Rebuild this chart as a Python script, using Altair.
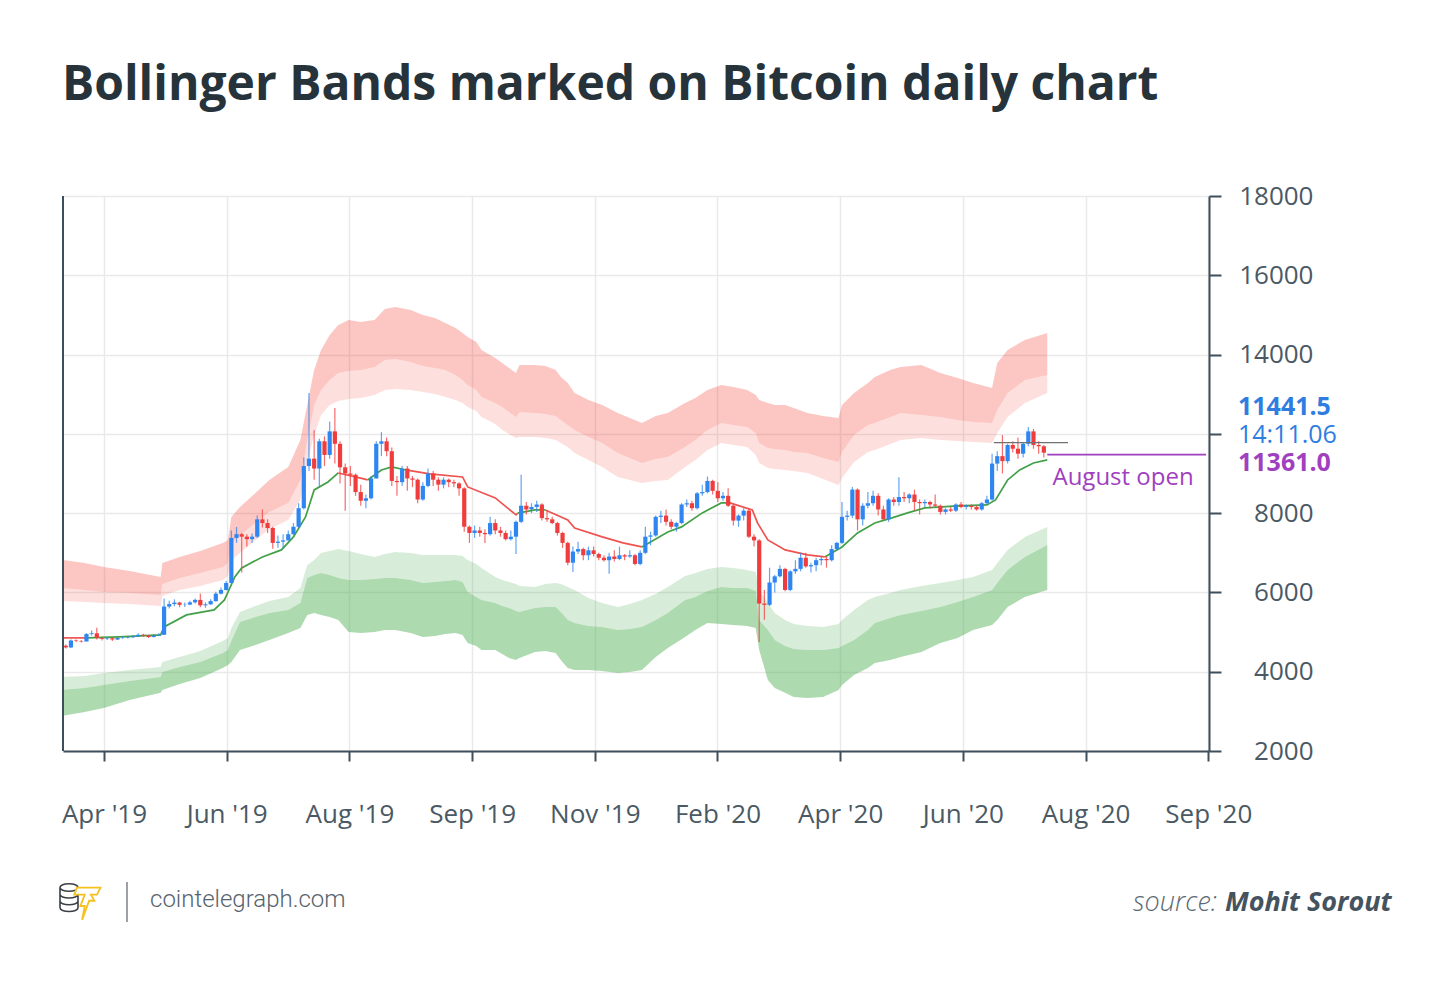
import json

import altair as alt
import pandas as pd

# ---------------------------------------------------------------- data
# 3-day candles, the first one centred on 2019-02-05
candle_start = "2019-02-05"
first_open = 3650
closes = [
    3580, 3860, 3840, 3820, 4120, 4150, 3960, 3930, 3950, 3900,
    3960, 3970, 3990, 4030, 4090, 4060, 4000, 4060, 4090, 5230,
    5330, 5390, 5300, 5310, 5400, 5500, 5280, 5320, 5450, 5750,
    5900, 6180, 8000, 8150, 8050, 7950, 8050, 8750, 8600, 8400,
    7800, 7850, 7900, 8150, 8450, 9200, 10900, 11200, 10800, 11900,
    11350, 12300, 11800, 10850, 10600, 10550, 9850, 9500, 9600, 10400,
    11800, 11900, 11500, 10300, 10250, 10800, 10400, 10350, 9550, 10100,
    10600, 10350, 10150, 10350, 10250, 10200, 10000, 8450, 8200, 8300,
    8200, 8150, 8600, 8300, 8200, 7950, 8050, 8650, 9300, 9150,
    9250, 9350, 8800, 8750, 8600, 8200, 7800, 7000, 7450, 7550,
    7300, 7500, 7350, 7200, 7100, 7250, 7150, 7300, 7250, 7300,
    6950, 7400, 8050, 8100, 8850, 8900, 8650, 8450, 8600, 9350,
    9400, 9200, 9800, 9850, 10300, 9900, 9600, 9700, 9300, 8700,
    8900, 9100, 8050, 7900, 5350, 5300, 6200, 6450, 6750, 5900,
    6650, 6750, 7200, 6850, 6900, 7100, 7150, 7100, 7550, 7800,
    8850, 8900, 9950, 8750, 9300, 9400, 9700, 9150, 8750, 9550,
    9450, 9650, 9600, 9750, 9450, 9400, 9450, 9350, 9300, 9050,
    9150, 9100, 9350, 9250, 9300, 9250, 9150, 9400, 9550, 11000,
    11300, 11100, 11750, 11600, 11400, 11800, 12300, 11750, 11700, 11440,
]
highs = [
    3700, 3900, 3900, 3880, 4160, 4260, 4370, 4010, 4010, 3980,
    4010, 4030, 4040, 4080, 4150, 4130, 4080, 4110, 4160, 5560,
    5460, 5520, 5420, 5390, 5460, 5560, 5760, 5400, 5520, 5830,
    6000, 6260, 8300, 8440, 8200, 8150, 8180, 8900, 9150, 8750,
    8450, 8100, 8150, 8300, 8600, 9400, 11250, 13850, 12350, 12000,
    12100, 12700, 13240, 11900, 11000, 10900, 10600, 10150, 9750, 10500,
    11900, 12270, 12050, 11650, 10500, 10900, 10900, 10500, 10400, 10250,
    10800, 10700, 10450, 10450, 10400, 10350, 10250, 10050, 8500, 8500,
    8450, 8350, 8850, 8750, 8450, 8300, 8300, 8700, 10550, 9450,
    9400, 9500, 9400, 9100, 8850, 8650, 8250, 7850, 7650, 7850,
    7600, 7650, 7650, 7400, 7300, 7400, 7500, 7650, 7350, 7500,
    7350, 7500, 8450, 8250, 8900, 9100, 9150, 8750, 8650, 9400,
    9550, 9500, 9850, 10150, 10480, 10350, 10250, 9850, 10000, 9350,
    8950, 9200, 9180, 8150, 7950, 5900, 6800, 6500, 6900, 6800,
    6700, 7100, 7400, 7400, 7000, 7200, 7250, 7250, 7700, 7850,
    9450, 9100, 10060, 10000, 9400, 9850, 9900, 9800, 9300, 9600,
    9650, 10450, 9850, 9800, 9950, 9550, 9550, 9500, 9750, 9350,
    9200, 9250, 9400, 9450, 9350, 9350, 9300, 9450, 9700, 11400,
    11500, 12150, 11800, 11900, 12050, 11850, 12480, 12400, 11900, 11750,
]
lows = [
    3540, 3560, 3790, 3780, 3820, 4060, 3900, 3860, 3880, 3840,
    3880, 3920, 3940, 3960, 4010, 4010, 3960, 3980, 4040, 4080,
    5150, 5240, 5200, 5210, 5280, 5350, 5200, 5180, 5300, 5420,
    5720, 5880, 6160, 7800, 6600, 7650, 7800, 8000, 8420, 8200,
    7560, 7600, 7550, 7900, 8100, 8400, 9150, 10700, 10350, 10050,
    10900, 11200, 11000, 10200, 9100, 10100, 9700, 9300, 9200, 9550,
    10400, 11300, 11300, 10100, 9700, 10100, 9900, 10050, 9400, 9500,
    10050, 10100, 9900, 10000, 10050, 10050, 9700, 8250, 7800, 8000,
    8050, 7800, 8100, 8150, 8050, 7900, 7900, 7350, 8600, 8950,
    9000, 9050, 8700, 8650, 8550, 8100, 7600, 6900, 6620, 7350,
    7100, 7100, 7250, 7100, 7050, 6550, 7050, 7100, 7100, 7200,
    6900, 6900, 7350, 7700, 8050, 8600, 8500, 8350, 8250, 8550,
    9250, 9100, 9150, 9700, 9800, 9750, 9450, 9500, 9250, 8500,
    8450, 8700, 8000, 7650, 3800, 4700, 5250, 5800, 6400, 5850,
    5850, 6550, 6650, 6800, 6600, 6650, 6900, 6800, 7050, 7500,
    7750, 8700, 8800, 8300, 8500, 9200, 9300, 8900, 8700, 8650,
    9300, 9300, 9450, 9400, 9100, 8950, 9250, 9200, 9250, 8950,
    8950, 9050, 9050, 9200, 9150, 9150, 9100, 9100, 9350, 9500,
    10700, 10600, 11000, 11450, 11200, 11250, 11700, 11600, 11400, 11250,
]

# Bollinger bands: outer / split / inner edge of the upper and lower zones
band_dates = [
    "2019-02-03", "2019-02-16", "2019-02-27", "2019-03-14", "2019-04-01",
    "2019-04-02", "2019-04-12", "2019-04-24", "2019-05-07", "2019-05-10",
    "2019-05-12", "2019-05-17", "2019-05-26", "2019-06-03", "2019-06-14",
    "2019-06-21", "2019-06-25", "2019-06-29", "2019-07-03", "2019-07-08",
    "2019-07-13", "2019-07-19", "2019-07-26", "2019-08-03", "2019-08-09",
    "2019-08-15", "2019-08-24", "2019-08-31", "2019-09-07", "2019-09-13",
    "2019-09-19", "2019-09-23", "2019-09-26", "2019-10-01", "2019-10-04",
    "2019-10-12", "2019-10-16", "2019-10-20", "2019-10-24", "2019-10-26",
    "2019-11-04", "2019-11-10", "2019-11-16", "2019-11-19", "2019-11-23",
    "2019-11-27", "2019-12-05", "2019-12-13", "2019-12-22", "2019-12-29",
    "2020-01-05", "2020-01-13", "2020-01-20", "2020-01-30", "2020-02-05",
    "2020-02-12", "2020-02-20", "2020-02-27", "2020-03-06", "2020-03-11",
    "2020-03-13", "2020-03-18", "2020-03-22", "2020-03-28", "2020-04-02",
    "2020-04-10", "2020-04-19", "2020-04-28", "2020-04-30", "2020-05-07",
    "2020-05-15", "2020-05-19", "2020-05-28", "2020-06-03", "2020-06-15",
    "2020-06-26", "2020-07-06", "2020-07-15", "2020-07-26", "2020-07-29",
    "2020-08-04", "2020-08-14", "2020-08-27",
]
upper_outer = [
    7112, 6991, 6830, 6668, 6426, 6991, 7233, 7475, 7798, 7919,
    8847, 9251, 9816, 10340, 10864, 11954, 13366, 14778, 15585, 16191,
    16594, 16796, 16716, 16796, 17240, 17321, 17200, 16998, 16877, 16675,
    16474, 16271, 16110, 15909, 15585, 15263, 15061, 14859, 14657, 14980,
    14980, 14940, 14778, 14496, 14254, 13851, 13568, 13366, 13044, 12842,
    12640, 12923, 13044, 13447, 13649, 13972, 14173, 14092, 13972, 13770,
    13568, 13447, 13366, 13366, 13245, 13044, 12923, 12842, 13366, 13851,
    14254, 14496, 14778, 14900, 14980, 14657, 14456, 14254, 14052, 15061,
    15585, 15989, 16271,
]
upper_mid = [
    5982, 5902, 5821, 5781, 5700, 6144, 6386, 6588, 6830, 6991,
    7798, 8121, 8605, 9049, 9412, 10340, 11954, 13366, 13972, 14375,
    14657, 14738, 14778, 14900, 15182, 15222, 15101, 14940, 14859, 14778,
    14577, 14375, 14173, 13972, 13689, 13447, 13286, 13084, 12882, 13084,
    13044, 13003, 12923, 12761, 12559, 12358, 12075, 11833, 11430, 11228,
    11026, 11187, 11268, 11672, 11954, 12358, 12640, 12559, 12479, 12237,
    11833, 11632, 11591, 11551, 11470, 11430, 11228, 11066, 11470, 12156,
    12559, 12640, 12882, 13044, 12963, 12882, 12761, 12680, 12640, 13165,
    13851, 14375, 14577,
]
upper_inner = [
    5458, 5417, 5377, 5337, 5256, 5660, 5902, 6063, 6305, 6466,
    7112, 7394, 7919, 8363, 8726, 9533, 11066, 12156, 12963, 13366,
    13528, 13609, 13649, 13770, 13972, 14012, 13972, 13891, 13810, 13689,
    13568, 13447, 13286, 13124, 12882, 12600, 12358, 12197, 12035, 12075,
    12075, 12035, 11954, 11833, 11672, 11430, 11147, 10864, 10461, 10340,
    10219, 10300, 10340, 10864, 11147, 11551, 11833, 11752, 11672, 11349,
    11026, 10824, 10784, 10743, 10703, 10622, 10380, 10138, 10421, 11066,
    11470, 11551, 11793, 11954, 12035, 11954, 11914, 11874, 11833, 12237,
    12882, 13447, 13851,
]
lower_inner = [
    2391, 2432, 2553, 2674, 2795, 2996, 3198, 3440, 3844, 3965,
    4368, 5014, 5256, 5458, 5619, 5982, 6910, 7112, 7394, 7475,
    7556, 7475, 7354, 7233, 7354, 7435, 7394, 7314, 7314, 7314,
    7314, 7273, 7112, 6951, 6789, 6426, 6305, 6224, 6144, 6063,
    6023, 6144, 6184, 6144, 6023, 5902, 5579, 5377, 5216, 5337,
    5498, 5740, 6023, 6466, 6588, 6749, 6830, 6789, 6709, 6628,
    5902, 5377, 4974, 4691, 4530, 4449, 4409, 4530, 4691, 5095,
    5498, 5619, 5781, 5902, 6063, 6184, 6305, 6426, 6709, 6991,
    7516, 8040, 8444,
]
lower_mid = [
    1867, 1947, 2068, 2230, 2391, 2593, 2795, 2996, 3360, 3481,
    3844, 4610, 4812, 4974, 5095, 5377, 6386, 6507, 6588, 6507,
    6386, 6305, 6305, 6345, 6386, 6386, 6305, 6184, 6224, 6265,
    6305, 6224, 5821, 5619, 5498, 5377, 5256, 5175, 5055, 5014,
    5175, 5216, 5216, 5014, 4691, 4570, 4449, 4409, 4288, 4328,
    4409, 4691, 4974, 5498, 5619, 5861, 6023, 5982, 5982, 5861,
    4691, 4288, 3884, 3642, 3521, 3481, 3481, 3561, 3642, 3884,
    4288, 4570, 4772, 4893, 5055, 5216, 5417, 5619, 5902, 6184,
    6709, 7233, 7717,
]
lower_outer = [
    817, 979, 1140, 1463, 1746, 1867, 2109, 2351, 2754, 2875,
    2996, 3481, 3682, 3884, 4167, 4368, 4893, 4974, 4893, 4812,
    4691, 4207, 4167, 4207, 4288, 4288, 4167, 4005, 4046, 4126,
    4167, 4086, 3763, 3642, 3481, 3481, 3319, 3158, 3077, 3158,
    3400, 3440, 3360, 3077, 2754, 2674, 2674, 2633, 2553, 2593,
    2674, 3198, 3561, 4005, 4288, 4570, 4530, 4489, 4449, 4368,
    3481, 2270, 1947, 1746, 1584, 1543, 1584, 1867, 2068, 2472,
    2754, 2956, 3077, 3198, 3400, 3763, 3965, 4288, 4489, 4691,
    5216, 5619, 5902,
]

# trailing middle line, green while rising, red while falling
trend_dates = [
    "2019-02-03", "2019-02-17", "2019-02-17", "2019-03-08", "2019-04-01",
    "2019-04-03", "2019-04-16", "2019-05-02", "2019-05-08", "2019-05-14",
    "2019-05-18", "2019-05-30", "2019-06-10", "2019-06-17", "2019-06-24",
    "2019-06-29", "2019-07-07", "2019-07-13", "2019-07-13", "2019-07-23",
    "2019-07-30", "2019-07-30", "2019-08-07", "2019-08-13", "2019-08-21",
    "2019-08-21", "2019-09-04", "2019-09-23", "2019-09-26", "2019-10-12",
    "2019-10-24", "2019-10-25", "2019-10-25", "2019-11-04", "2019-11-10",
    "2019-11-10", "2019-11-23", "2019-11-27", "2019-12-13", "2019-12-25",
    "2020-01-05", "2020-01-05", "2020-01-20", "2020-01-28", "2020-02-09",
    "2020-02-20", "2020-02-25", "2020-02-25", "2020-03-09", "2020-03-12",
    "2020-03-18", "2020-03-28", "2020-04-10", "2020-04-20", "2020-04-20",
    "2020-04-30", "2020-05-09", "2020-05-19", "2020-05-29", "2020-06-07",
    "2020-06-17", "2020-06-27", "2020-07-06", "2020-07-23", "2020-07-28",
    "2020-08-04", "2020-08-11", "2020-08-19", "2020-08-27",
]
trend_vals = [
    3965, 3965, 3965, 4005, 4086, 4409, 4893, 5095, 5498, 6426,
    6789, 7233, 7516, 8040, 8847, 9937, 10259, 10622, 10622, 10461,
    10340, 10340, 10743, 10864, 10743, 10743, 10582, 10461, 10058, 9614,
    8928, 9000, 9000, 9130, 9130, 9130, 8726, 8403, 8040, 7798,
    7636, 7636, 8242, 8444, 9009, 9412, 9412, 9412, 9130, 8605,
    7919, 7516, 7314, 7233, 7233, 7636, 8202, 8605, 8807, 9009,
    9210, 9251, 9291, 9331, 9533, 10340, 10743, 11026, 11147,
]
trend_dir = [
    "dn", "dn", "up", "up", "up", "up", "up", "up", "up", "up",
    "up", "up", "up", "up", "up", "up", "up", "up", "dn", "dn",
    "dn", "up", "up", "up", "up", "dn", "dn", "dn", "dn", "dn",
    "dn", "dn", "up", "up", "up", "dn", "dn", "dn", "dn", "dn",
    "dn", "up", "up", "up", "up", "up", "up", "dn", "dn", "dn",
    "dn", "dn", "dn", "dn", "up", "up", "up", "up", "up", "up",
    "up", "up", "up", "up", "up", "up", "up", "up", "up",
]

x_labels = ["Apr '19", "Jun '19", "Aug '19", "Sep '19", "Nov '19",
            "Feb '20", "Apr '20", "Jun '20", "Aug '20", "Sep '20"]
y_labels = ["2000", "4000", "6000", "8000", "", "14000", "16000", "18000"]

price_now = "11441.5"
countdown = "14:11.06"
august_open = 11361.0
august_open_span = ["2020-08-27", "2020-11-27"]
range_top = 11850
range_top_span = ["2020-07-27", "2020-09-08"]

# ---------------------------------------------------------------- layout
ORIGIN = pd.Timestamp("2019-02-01")
W, H = 1146, 555
X_DOMAIN = [2.4, 666.75]
Y_DOMAIN = [-600, 21800]
x_ticks = [26.17 + 71.13 * i for i in range(len(x_labels))]
y_ticks = [Y_DOMAIN[0] + 3200 * i for i in range(len(y_labels))]

AX = "#3e4e5a"
TXT = "#4a5964"
RED = "#f44336"
GREEN = "#4caf50"
UP = "#2f86f0"
DOWN = "#f03c3c"
PURPLE = "#a03fbf"
BLUE = "#2f7de1"
FONT = "Open Sans"


def days(dates):
    return (pd.to_datetime(pd.Series(dates)) - ORIGIN).dt.days


def label_expr(values, labels):
    expr = "''"
    for v, lab in reversed(list(zip(values, labels))):
        expr = f"abs(datum.value - {v}) < 0.5 ? {json.dumps(lab)} : ({expr})"
    return expr


x_scale = alt.Scale(domain=X_DOMAIN, nice=False, zero=False)
y_scale = alt.Scale(domain=Y_DOMAIN, nice=False, zero=False)
x_axis = alt.Axis(values=x_ticks, labelExpr=label_expr(x_ticks, x_labels),
                  title=None, grid=True, gridColor="#e9e9e9", gridWidth=1.5,
                  domainColor=AX, domainWidth=2, tickColor=AX, tickWidth=2,
                  tickSize=10, labelFont=FONT, labelFontSize=26, labelColor=TXT,
                  labelBaseline="alphabetic", labelPadding=61,
                  labelFlush=False, labelOverlap=False)
y_axis = alt.Axis(values=y_ticks, labelExpr=label_expr(y_ticks, y_labels),
                  orient="right", title=None, grid=True, gridColor="#e9e9e9",
                  gridWidth=1.5, domainColor=AX, domainWidth=2, tickColor=AX,
                  tickWidth=2, tickSize=12, labelFont=FONT, labelFontSize=26,
                  labelColor=TXT, labelAlign="right", labelPadding=92,
                  labelBaseline="middle", labelOverlap=False)


def xq(field="day"):
    return alt.X(f"{field}:Q", scale=x_scale, axis=x_axis)


def yq(field):
    return alt.Y(f"{field}:Q", scale=y_scale, axis=y_axis)


# ---------------------------------------------------------------- frames
candles = pd.DataFrame({"close": closes, "high": highs, "low": lows})
candles["open"] = [first_open] + closes[:-1]
candles["day"] = days(pd.date_range(candle_start, periods=len(closes), freq="3D"))
candles["dir"] = ["up" if c >= o else "dn" for o, c in zip(candles["open"], candles["close"])]

bands = pd.DataFrame({"uo": upper_outer, "um": upper_mid, "ui": upper_inner,
                      "li": lower_inner, "lm": lower_mid, "lo": lower_outer})
bands["day"] = days(band_dates)

trend = pd.DataFrame({"value": trend_vals, "dir": trend_dir})
trend["day"] = days(trend_dates)
trend["seg"] = (trend["dir"] != trend["dir"].shift()).cumsum()

lines = pd.DataFrame({
    "d0": days([august_open_span[0], range_top_span[0]]),
    "d1": days([august_open_span[1], range_top_span[1]]),
    "v": [august_open, range_top],
    "kind": ["open", "range"],
})
note = pd.DataFrame({"day": days(["2020-08-30"]), "v": [10420], "t": ["August open"]})


# ---------------------------------------------------------------- layers
def band(lo_field, hi_field, color, opacity):
    return alt.Chart(bands).mark_area(color=color, opacity=opacity, clip=True).encode(
        x=xq(), y=yq(lo_field), y2=alt.Y2(hi_field))


def text(t, x, y, **style):
    style.setdefault("font", FONT)
    return alt.Chart(pd.DataFrame({"t": [t]})).mark_text(**style).encode(
        x=alt.value(x), y=alt.value(y), text="t:N")


one = pd.DataFrame({"a": [0]})

layers = [
    band("uo", "um", RED, 0.30),
    band("um", "ui", RED, 0.17),
    band("li", "lm", GREEN, 0.22),
    band("lm", "lo", GREEN, 0.46),
]
for d, col in (("up", "#43a047"), ("dn", "#ef5350")):
    layers.append(
        alt.Chart(trend).transform_filter(alt.datum.dir == d)
        .mark_line(color=col, strokeWidth=1.7, clip=True)
        .encode(x=xq(), y=yq("value"), detail="seg:N"))
for d, col in (("up", UP), ("dn", DOWN)):
    sub = alt.Chart(candles).transform_filter(alt.datum.dir == d)
    layers.append(sub.mark_rule(color=col, strokeWidth=1.2, opacity=0.75)
                  .encode(x=xq(), y=yq("low"), y2=alt.Y2("high")))
    layers.append(sub.mark_rule(color=col, strokeWidth=4.2)
                  .encode(x=xq(), y=yq("open"), y2=alt.Y2("close")))

layers += [
    alt.Chart(lines).transform_filter(alt.datum.kind == "range")
    .mark_rule(color="#707070", strokeWidth=1.2)
    .encode(x=xq("d0"), x2=alt.X2("d1"), y=yq("v")),
    alt.Chart(lines).transform_filter(alt.datum.kind == "open")
    .mark_rule(color=PURPLE, strokeWidth=1.6)
    .encode(x=xq("d0"), x2=alt.X2("d1"), y=yq("v")),
    alt.Chart(note).mark_text(align="left", baseline="middle", font=FONT,
                              fontSize=24, color=PURPLE)
    .encode(x=xq(), y=yq("v"), text="t:N"),
    # left frame line
    alt.Chart(one).mark_rule(color=AX, strokeWidth=2)
    .encode(x=alt.value(0), y=alt.value(0), y2=alt.value(H)),
    # price tags on the right axis
    text(price_now, 1175, 211, align="left", baseline="middle",
         fontSize=25, fontWeight="bold", color=BLUE),
    text(countdown, 1175, 239, align="left", baseline="middle",
         fontSize=25, color=BLUE),
    text(f"{august_open:.1f}", 1175, 267, align="left", baseline="middle",
         fontSize=25, fontWeight="bold", color=PURPLE),
    # title
    text("Bollinger Bands marked on Bitcoin daily chart", -1, -96,
         align="left", baseline="alphabetic", fontSize=48,
         fontWeight="bold", color="#27333b"),
    # footer
    text("cointelegraph.com", 87, 704, align="left", baseline="middle",
         font="Roboto", fontSize=24, fontWeight=300, color="#56636d"),
    text("source:", 1154, 707, align="right", baseline="middle",
         fontSize=27, fontStyle="italic", fontWeight=300, color="#5a6872"),
    text("Mohit Sorout", 1162, 707, align="left", baseline="middle",
         fontSize=27, fontStyle="italic", fontWeight="bold", color="#44535e"),
    alt.Chart(one).mark_rule(color="#7a8288", strokeWidth=1.5)
    .encode(x=alt.value(64), y=alt.value(686), y2=alt.value(726)),
    alt.Chart(one).mark_point(
        shape="M-0.6,-0.7 A0.6,0.25 0 0,1 0.6,-0.7 A0.6,0.25 0 0,1 -0.6,-0.7 Z "
              "M-0.6,-0.7 L-0.6,0.65 M0.6,-0.7 L0.6,0.65 "
              "M-0.6,-0.25 A0.6,0.25 0 0,0 0.6,-0.25 "
              "M-0.6,0.2 A0.6,0.25 0 0,0 0.6,0.2 "
              "M-0.6,0.65 A0.6,0.25 0 0,0 0.6,0.65",
        size=900, filled=False, color="#3b4045", strokeWidth=1.6, opacity=1)
    .encode(x=alt.value(6), y=alt.value(702)),
    alt.Chart(one).mark_point(
        shape="M-0.55,-0.85 L0.8,-0.85 L0.6,-0.45 L0.25,-0.45 L0.45,-0.1 "
              "L0.15,-0.1 L-0.25,1 L-0.1,0.2 L-0.35,0.2 L-0.1,-0.45 L-0.7,-0.45 Z",
        size=1225, fill="white", fillOpacity=1, stroke="#f6c01d",
        strokeWidth=1.8, opacity=1)
    .encode(x=alt.value(23.5), y=alt.value(706.5)),
]

chart = alt.layer(*layers).properties(
    width=W, height=H,
    autosize=alt.AutoSizeParams(type="none"),
    padding={"left": 55, "top": 188, "right": 233, "bottom": 223},
).configure(background="white").configure_view(stroke=None)

chart.save("out.html", embed_options={"renderer": "svg", "actions": False})
